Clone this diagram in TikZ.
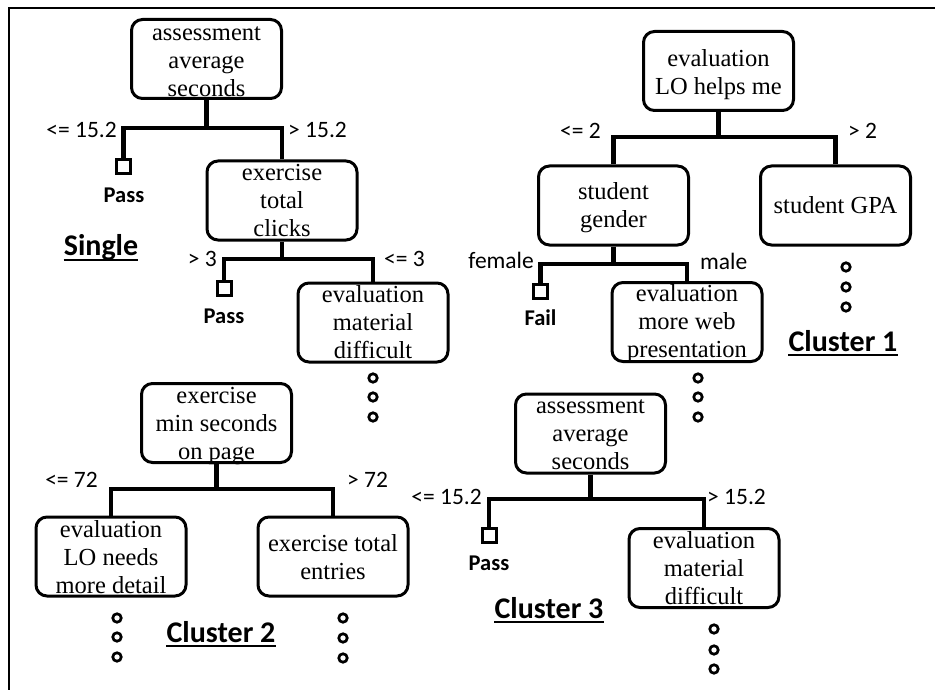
\documentclass[tikz,border=0pt]{standalone}
\usepackage{fontspec}
\newfontfamily\boxfont{Liberation Serif}
\newfontfamily\lblfont{Carlito}
\tikzset{
  tbox/.style={draw, line width=3, rounded corners=11, minimum width=150, minimum height=79, inner sep=0},
  btext/.style={inner sep=0, align=center, font=\boxfont\fontsize{24.5}{28}\selectfont},
  leaf/.style={draw, line width=3, minimum size=14, inner sep=0},
  conn/.style={line width=4.5, line join=miter},
  dotc/.style={draw, circle, line width=2.7, minimum size=8.5, inner sep=0},
  cond/.style={font=\lblfont\fontsize{23.5}{26}\selectfont, inner sep=0},
  leaflbl/.style={font=\lblfont\bfseries\fontsize{22.5}{24}\selectfont, inner sep=0},
  ttl/.style={font=\lblfont\bfseries\fontsize{30}{32}\selectfont, inner sep=0},
  uline/.style={line width=2}
}
\begin{document}
\begin{tikzpicture}[x=1pt,y=-1pt]
\useasboundingbox (0,0) rectangle (935,690);
\fill[white] (0,0) rectangle (935,690);
\draw[line width=2.5] (9,690) -- (9,8) -- (935,8);

% ---------------- Single ----------------
\node[tbox] (r1) at (206.5,59) {};
\node[btext] (r1t) at ([yshift=-3]r1.center) {assessment\\average\\seconds};
\coordinate (b1) at (206.5,128);
\node[leaf] (p1) at (123.5,167) {};
\node[leaflbl] (pass1) at (124,195) {Pass};
\node[tbox] (n2) at (282,200.5) {};
\node[btext] (n2t) at (n2.center) {exercise\\total\\clicks};
\node[cond, anchor=east] (l1) at (117,130) {<= 15.2};
\node[cond, anchor=west] (l2) at (288,130) {> 15.2};
\draw[conn] (r1.south) -- (b1);
\draw[conn] (p1.north) |- (b1);
\draw[conn] (n2.north) |- (b1);
\coordinate (b2) at (282,259);
\node[leaf] (p2) at (224,288) {};
\node[leaflbl] (pass2) at (224,316) {Pass};
\node[cond, anchor=east] (l3) at (217,259) {> 3};
\node[cond, anchor=west] (l4) at (384,259) {<= 3};
\node[tbox] (n3) at (373,322.5) {};
\node[btext] (n3t) at (n3.center) {evaluation\\material\\difficult};
\draw[conn] (n2.south) -- (b2);
\draw[conn] (p2.north) |- (b2);
\draw[conn] (n3.north) |- (b2);
\node[dotc] (s1) at (373,378) {};
\node[dotc] (s2) at (373,397) {};
\node[dotc] (s3) at (373,417) {};
\node[ttl] (tsingle) at (101,248) {Single};
\draw[uline] ([yshift=-4]tsingle.base west) -- ([yshift=-4]tsingle.base east);

% ---------------- Cluster 1 ----------------
\node[tbox] (c1r) at (718.5,71) {};
\node[btext] (c1rt) at ([yshift=-4]c1r.center) {evaluation\\LO helps me};
\coordinate (bc1) at (718.5,137);
\node[tbox] (c1a) at (613.5,205.5) {};
\node[btext] (c1at) at ([yshift=-2]c1a.center) {student\\gender};
\node[tbox] (c1b) at (835.5,205.5) {};
\node[btext] (c1bt) at (c1b.center) {student GPA};
\node[cond, anchor=east] (l5) at (601,131) {<= 2};
\node[cond, anchor=west] (l6) at (848,131) {> 2};
\draw[conn] (c1r.south) -- (bc1);
\draw[conn] (c1a.north) |- (bc1);
\draw[conn] (c1b.north) |- (bc1);
\node[dotc] (g1) at (846,267) {};
\node[dotc] (g2) at (846,287) {};
\node[dotc] (g3) at (846,307) {};
\coordinate (bc1a) at (613.5,264);
\node[leaf] (f1) at (540.5,291) {};
\node[leaflbl] (fail) at (540.5,318) {Fail};
\node[cond, anchor=east] (l7) at (534,260) {female};
\node[cond, anchor=west] (l8) at (700,261) {male};
\node[tbox] (c1c) at (687,322) {};
\node[btext] (c1ct) at ([yshift=-2]c1c.center) {evaluation\\more web\\presentation};
\draw[conn] (c1a.south) -- (bc1a);
\draw[conn] (f1.north) |- (bc1a);
\draw[conn] (c1c.north) |- (bc1a);
\node[dotc] (w1) at (698,378) {};
\node[dotc] (w2) at (698,397) {};
\node[dotc] (w3) at (698,417) {};
\node[ttl] (tc1) at (843,341) {Cluster 1};
\draw[uline] ([yshift=-4]tc1.base west) -- ([yshift=-4]tc1.base east);

% ---------------- Cluster 2 ----------------
\node[tbox] (c2r) at (216.5,423) {};
\node[btext] (c2rt) at ([yshift=-3]c2r.center) {exercise\\min seconds\\on page};
\coordinate (bc2) at (216.5,489);
\node[tbox] (c2a) at (111,556.5) {};
\node[btext] (c2at) at ([yshift=-1]c2a.center) {evaluation\\LO needs\\more detail};
\node[tbox] (c2b) at (333,556.5) {};
\node[btext] (c2bt) at ([yshift=-1]c2b.center) {exercise total\\entries};
\node[cond, anchor=east] (l9) at (98,480) {<= 72};
\node[cond, anchor=west] (l10) at (347,480) {> 72};
\draw[conn] (c2r.south) -- (bc2);
\draw[conn] (c2a.north) |- (bc2);
\draw[conn] (c2b.north) |- (bc2);
\node[dotc] (e1) at (117,618) {};
\node[dotc] (e2) at (117,637) {};
\node[dotc] (e3) at (117,657) {};
\node[dotc] (t1) at (343,618) {};
\node[dotc] (t2) at (343,638) {};
\node[dotc] (t3) at (343,658) {};
\node[ttl] (tc2) at (221,632) {Cluster 2};
\draw[uline] ([yshift=-4]tc2.base west) -- ([yshift=-4]tc2.base east);

% ---------------- Cluster 3 ----------------
\node[tbox] (c3r) at (590.5,433.5) {};
\node[btext] (c3rt) at ([yshift=-1.5]c3r.center) {assessment\\average\\seconds};
\coordinate (bc3) at (590.5,499);
\node[leaf] (p3) at (489,535) {};
\node[leaflbl] (pass3) at (489,563) {Pass};
\node[tbox] (c3a) at (704,568) {};
\node[btext] (c3at) at (c3a.center) {evaluation\\material\\difficult};
\node[cond, anchor=east] (l11) at (482,497) {<= 15.2};
\node[cond, anchor=west] (l12) at (707,497) {> 15.2};
\draw[conn] (c3r.south) -- (bc3);
\draw[conn] (p3.north) |- (bc3);
\draw[conn] (c3a.north) |- (bc3);
\node[dotc] (m1) at (714,629) {};
\node[dotc] (m2) at (714,650) {};
\node[dotc] (m3) at (714,669) {};
\node[ttl] (tc3) at (549,608) {Cluster 3};
\draw[uline] ([yshift=-4]tc3.base west) -- ([yshift=-4]tc3.base east);
\end{tikzpicture}
\end{document}
